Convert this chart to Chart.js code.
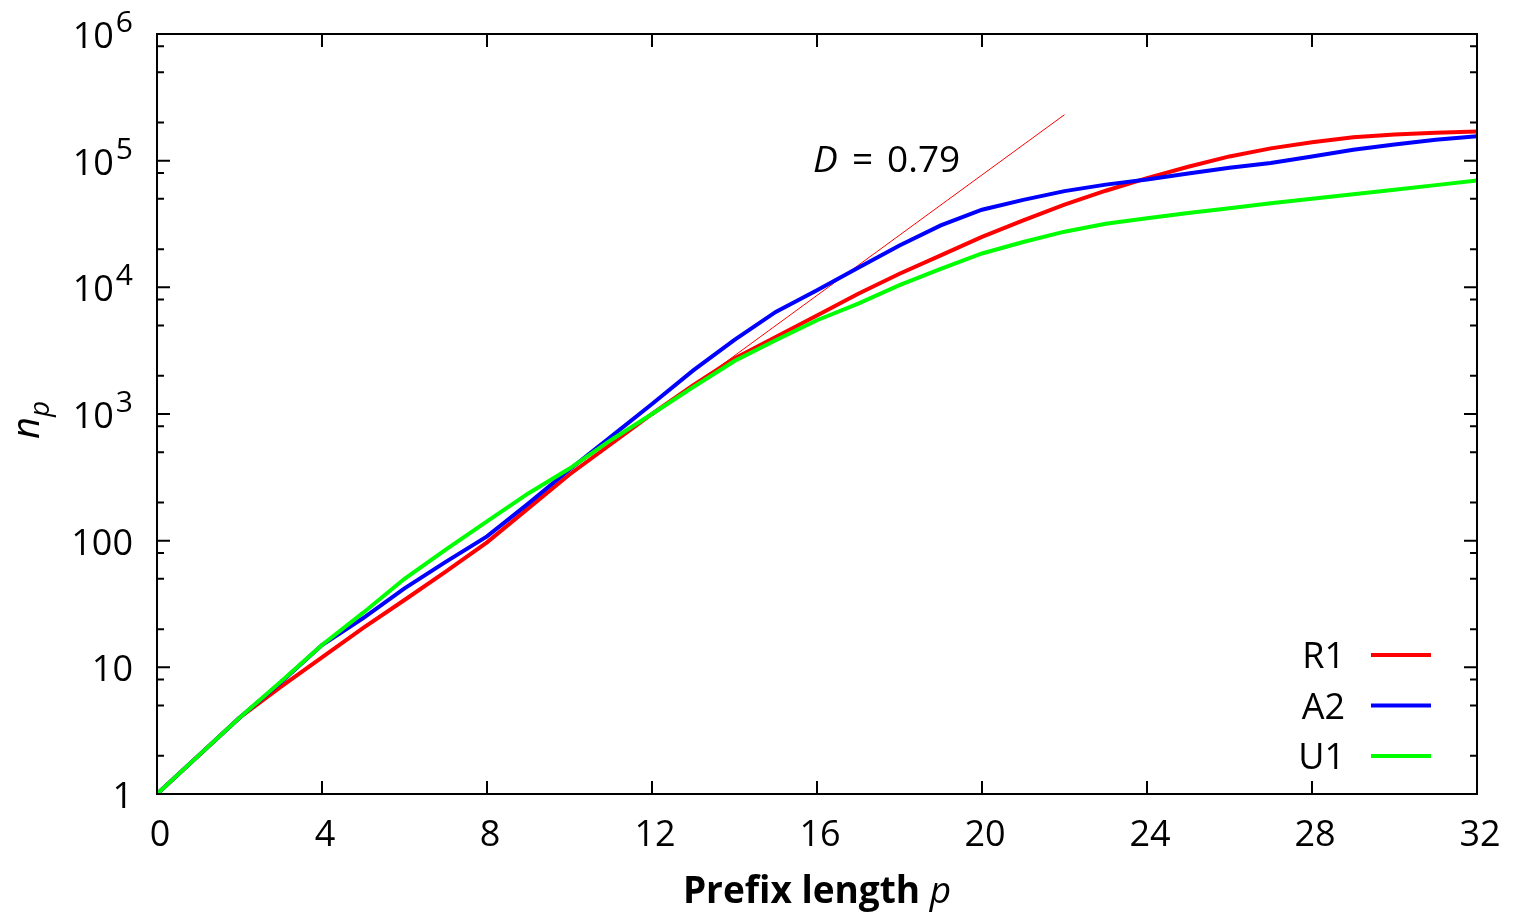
<!DOCTYPE html>
<html>
<head>
<meta charset="utf-8">
<script src="https://cdn.jsdelivr.net/npm/chart.js@4"></script>
<style>
  html, body { margin: 0; padding: 0; background: #fff; }
  #wrap { width: 1514px; height: 915px; }
</style>
</head>
<body>
<div id="wrap"><canvas id="chart" width="1514" height="915"></canvas></div>
<script>
// prefix length p
const prefixLen = [0, 1, 2, 3, 4, 5, 6, 7, 8, 9, 10, 11, 12, 13, 14, 15, 16,
  17, 18, 19, 20, 21, 22, 23, 24, 25, 26, 27, 28, 29, 30, 31, 32]

// n_p per series
const r1 = [1, 2, 4, 7, 12, 20.5, 34, 57, 97, 180, 333, 577, 1000, 1690, 2740, 4060, 6000,
  8900, 12800, 17900, 25000, 33800, 45000, 57900, 72800, 89600, 108000, 125000, 140000,
  153000, 161000, 166000, 170000]
const a2 = [1, 2, 4, 7.6, 15, 24.5, 42, 68, 108, 196, 365, 659, 1200, 2210, 3850, 6400, 9470,
  14300, 21400, 30800, 41000, 49000, 57500, 64700, 71100, 79300, 87800, 95700, 108000,
  122000, 134000, 146000, 156000]
const u1 = [1, 2, 4, 7.7, 15, 27, 50, 85, 142, 236, 371, 621, 1000, 1630, 2620, 3820, 5500,
  7430, 10400, 14000, 18500, 22800, 27500, 31800, 35100, 38600, 42100, 46200, 50000,
  54400, 59000, 64100, 69900]

// power-law fit n_p ~ 2^(D p), D = 0.79
const fitP = [12, 22]
const fitN = [966, 230700]

const xTicks = [0, 4, 8, 12, 16, 20, 24, 28, 32]
const yDecades = [1, 10, 100, 1e3, 1e4, 1e5, 1e6]
const yMinorSteps = [2, 5, 8]

const FONT = "'Open Sans', 'Noto Sans', sans-serif"

const toPoints = (xs, ys) => xs.map((x, i) => ({ x, y: ys[i] }))

const series = [
  { label: "R1", data: r1, color: "#ff0000" },
  { label: "A2", data: a2, color: "#0000ff" },
  { label: "U1", data: u1, color: "#00ff00" },
]

// Frame, inward ticks, labels and legend drawn gnuplot-style
const framePlugin = {
  id: "frame",
  afterDatasetsDraw(chart) {
    const { ctx, chartArea: a, scales } = chart
    const xs = scales.x
    const ys = scales.y
    ctx.save()
    ctx.strokeStyle = "#000"
    ctx.fillStyle = "#000"
    ctx.lineWidth = 2
    ctx.strokeRect(a.left, a.top, a.right - a.left, a.bottom - a.top)

    ctx.beginPath()
    xTicks.forEach((v) => {
      const px = xs.getPixelForValue(v)
      ctx.moveTo(px, a.bottom); ctx.lineTo(px, a.bottom - 13)
      ctx.moveTo(px, a.top); ctx.lineTo(px, a.top + 13)
    })
    yDecades.forEach((d, i) => {
      const py = ys.getPixelForValue(d)
      ctx.moveTo(a.left, py); ctx.lineTo(a.left + 13, py)
      ctx.moveTo(a.right, py); ctx.lineTo(a.right - 13, py)
      if (i < yDecades.length - 1) {
        yMinorSteps.forEach((m) => {
          const pm = ys.getPixelForValue(d * m)
          ctx.moveTo(a.left, pm); ctx.lineTo(a.left + 7, pm)
          ctx.moveTo(a.right, pm); ctx.lineTo(a.right - 7, pm)
        })
      }
    })
    ctx.stroke()

    // x tick labels
    ctx.font = `36px ${FONT}`
    ctx.textAlign = "center"
    ctx.textBaseline = "alphabetic"
    xTicks.forEach((v) => {
      ctx.fillText(String(v), xs.getPixelForValue(v) + 3, a.bottom + 52)
    })

    // y tick labels, powers of ten with raised exponent
    const rightEdge = a.left - 24
    yDecades.forEach((d) => {
      const py = ys.getPixelForValue(d)
      const exp = Math.round(Math.log10(d))
      ctx.textAlign = "right"
      if (exp < 3) {
        ctx.font = `36px ${FONT}`
        ctx.fillText(String(d), rightEdge, py + 14)
      } else {
        ctx.font = `30px ${FONT}`
        const supW = ctx.measureText(String(exp)).width
        ctx.fillText(String(exp), rightEdge, py - 2)
        ctx.font = `36px ${FONT}`
        ctx.fillText("10", rightEdge - supW - 2, py + 14)
      }
    })

    // x axis title
    ctx.textAlign = "left"
    ctx.font = `bold 37px ${FONT}`
    const t1 = "Prefix length "
    const w1 = ctx.measureText(t1).width
    ctx.font = `italic 37px ${FONT}`
    const w2 = ctx.measureText("p").width
    const tx = (a.left + a.right) / 2 - (w1 + w2) / 2
    ctx.font = `bold 37px ${FONT}`
    ctx.fillText(t1, tx, 903)
    ctx.font = `italic 37px ${FONT}`
    ctx.fillText("p", tx + w1, 903)

    // y axis title n_p
    ctx.save()
    ctx.translate(39, (a.top + a.bottom) / 2 + 6)
    ctx.rotate(-Math.PI / 2)
    ctx.font = `italic 38px ${FONT}`
    const wn = ctx.measureText("n").width
    ctx.fillText("n", -wn / 2 - 8, 0)
    ctx.font = `italic 28px ${FONT}`
    ctx.fillText("p", wn / 2 - 8, 10)
    ctx.restore()

    // fit annotation
    ctx.font = `italic 37px ${FONT}`
    ctx.fillText("D", 813, 172)
    ctx.font = `37px ${FONT}`
    ctx.fillText("=", 852, 172)
    ctx.fillText("0.79", 887, 172)

    // legend
    series.forEach((s, i) => {
      const ly = 655 + i * 50.5
      ctx.textAlign = "right"
      ctx.font = `36px ${FONT}`
      ctx.fillStyle = "#000"
      ctx.fillText(s.label, 1345, ly + 13)
      ctx.strokeStyle = s.color
      ctx.lineWidth = 4
      ctx.beginPath()
      ctx.moveTo(1371, ly)
      ctx.lineTo(1431, ly)
      ctx.stroke()
    })
    ctx.restore()
  },
}

new Chart(document.getElementById("chart"), {
  type: "line",
  data: {
    datasets: [
      ...series.map((s, i) => ({
        label: s.label,
        data: toPoints(prefixLen, s.data),
        borderColor: s.color,
        borderWidth: 4,
        pointRadius: 0,
        tension: 0,
        fill: false,
        order: 2 - i,
      })),
      {
        label: "fit",
        data: toPoints(fitP, fitN),
        borderColor: "#ff0000",
        borderWidth: 1,
        pointRadius: 0,
        fill: false,
        order: 3,
      },
    ],
  },
  options: {
    responsive: false,
    animation: false,
    layout: { padding: { left: 157, right: 37, top: 34, bottom: 121 } },
    plugins: { legend: { display: false }, tooltip: { enabled: false } },
    scales: {
      x: { type: "linear", min: 0, max: 32, display: false },
      y: { type: "logarithmic", min: 1, max: 1e6, display: false },
    },
  },
  plugins: [framePlugin],
})
</script>
</body>
</html>
